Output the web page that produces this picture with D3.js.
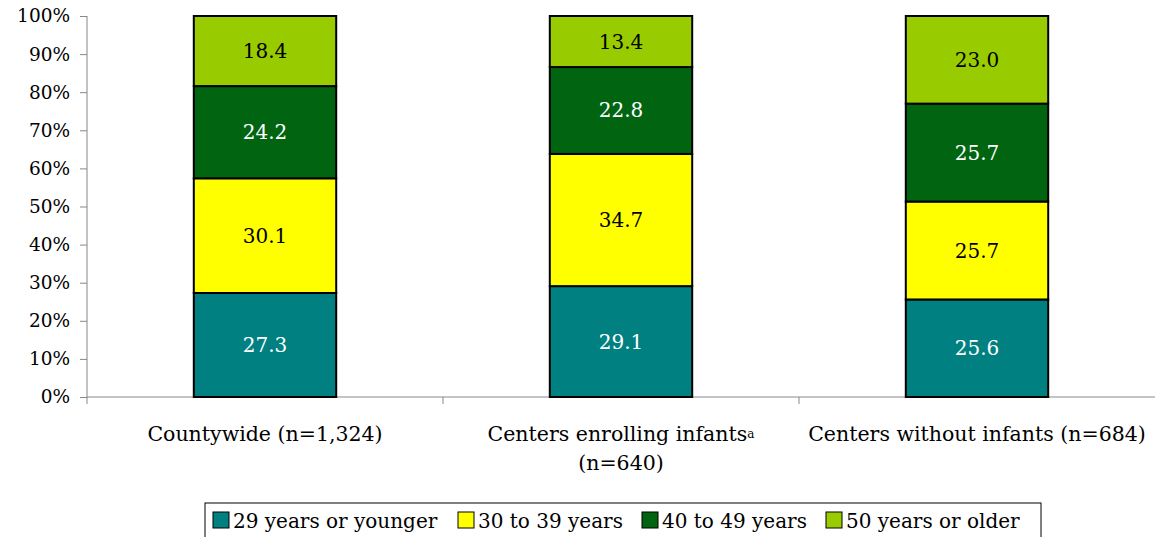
<!DOCTYPE html>
<html>
<head>
<meta charset="utf-8">
<script src="https://cdn.jsdelivr.net/npm/d3@7"></script>
<style>
  body { margin: 0; background: #fff; }
  svg text { font-family: "DejaVu Serif", Georgia, serif; }
  .axis path, .axis line { stroke: #888; }
  .axis text { font-size: 18.5px; fill: #000; }
</style>
</head>
<body>
<svg id="chart" width="1159" height="537"></svg>
<script>
// data
var categories = ["Countywide (n=1,324)", "Centers enrolling infants", "Centers without infants (n=684)"];
var seriesNames = ["29 years or younger", "30 to 39 years", "40 to 49 years", "50 years or older"];
var under30 = [27.3, 29.1, 25.6];
var age30s = [30.1, 34.7, 25.7];
var age40s = [24.2, 22.8, 25.7];
var over50 = [18.4, 13.4, 23.0];
var yTicks = [0, 10, 20, 30, 40, 50, 60, 70, 80, 90, 100];

var colors = ["#008080", "#ffff00", "#006411", "#99cc00"];
var textColors = ["#fff", "#000", "#fff", "#000"];

var margin = {top: 16, left: 87, right: 4, bottom: 140},
  width = 1159 - margin.left - margin.right,
  height = 397 - margin.top;

var svg = d3.select("#chart");
var g = svg.append("g").attr("transform", "translate(" + margin.left + "," + margin.top + ")");

var x = d3.scaleBand().domain(categories).range([0, width]).paddingInner(0.6).paddingOuter(0.3);
var band = d3.scaleBand().domain(categories).range([0, width]);
var y = d3.scaleLinear().domain([0, 100]).range([height, 0]);

var table = categories.map(function(c, i) {
  return {cat: c, s0: under30[i], s1: age30s[i], s2: age40s[i], s3: over50[i]};
});
var stack = d3.stack().keys(["s0", "s1", "s2", "s3"])(table);

// y axis
var yAxis = g.append("g").attr("class", "y axis")
  .call(d3.axisLeft(y).tickValues(yTicks).tickSize(7).tickPadding(10).tickFormat(function(d){ return d + "%"; }));
yAxis.select(".domain").attr("d", "M0,0V" + height);

// x axis
var xAxis = g.append("g").attr("class", "x axis").attr("transform", "translate(0," + height + ")");
xAxis.append("line").attr("x1", 0).attr("x2", width).attr("stroke", "#000");
xAxis.selectAll(".tk").data(categories).enter().append("line")
  .attr("x1", function(d){ return band(d); }).attr("x2", function(d){ return band(d); })
  .attr("y1", 0).attr("y2", 7).attr("stroke", "#000");

// bars
var layers = g.selectAll(".layer").data(stack).enter().append("g").attr("class", "layer");
layers.selectAll("rect").data(function(d){ return d; }).enter().append("rect")
  .attr("x", function(d){ return x(d.data.cat); })
  .attr("y", function(d){ return y(d[1]); })
  .attr("width", x.bandwidth())
  .attr("height", function(d){ return y(d[0]) - y(d[1]); })
  .attr("fill", function(d, i, n){ return colors[d3.select(n[i].parentNode).datum().index]; })
  .attr("stroke", "#000").attr("stroke-width", 2);

layers.selectAll("text").data(function(d){ return d; }).enter().append("text")
  .attr("x", function(d){ return x(d.data.cat) + x.bandwidth() / 2; })
  .attr("y", function(d){ return (y(d[0]) + y(d[1])) / 2; })
  .attr("dy", "0.35em")
  .attr("text-anchor", "middle")
  .style("font-size", "20px")
  .attr("fill", function(d, i, n){ return textColors[d3.select(n[i].parentNode).datum().index]; })
  .text(function(d){ return (d[1] - d[0]).toFixed(1); });

// category labels
var catLabels = g.append("g").attr("transform", "translate(0," + height + ")");
catLabels.selectAll("text").data(categories).enter().append("text")
  .attr("x", function(d){ return band(d) + band.bandwidth() / 2; })
  .attr("y", 44)
  .attr("text-anchor", "middle")
  .style("font-size", "20.5px")
  .text(function(d){ return d; })
  .each(function(d, i) {
    if (i === 1) {
      d3.select(this).append("tspan").attr("dy", "-0.25em").style("font-size", "12px").text("a");
      d3.select(this.parentNode).append("text")
        .attr("x", band(d) + band.bandwidth() / 2).attr("y", 73)
        .attr("text-anchor", "middle").style("font-size", "20.5px").text("(n=640)");
    }
  });

// legend
var legend = svg.append("g").attr("transform", "translate(205,503)");
legend.append("rect").attr("x", 0).attr("y", 0).attr("width", 836).attr("height", 40)
  .attr("fill", "#fff").attr("stroke", "#000");
var offs = [8, 253, 437, 621];
var items = legend.selectAll(".item").data(seriesNames).enter().append("g")
  .attr("transform", function(d, i){ return "translate(" + offs[i] + ",0)"; });
items.append("rect").attr("y", 9).attr("width", 16).attr("height", 16)
  .attr("fill", function(d, i){ return colors[i]; }).attr("stroke", "#000");
items.append("text").attr("x", 20).attr("y", 25).style("font-size", "20px").text(function(d){ return d; });
</script>
</body>
</html>
